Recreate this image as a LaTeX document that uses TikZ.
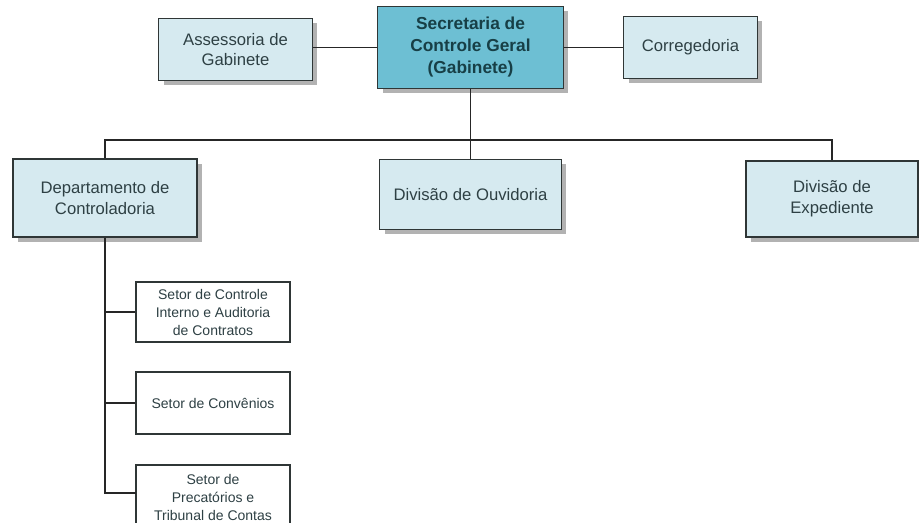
\documentclass[tikz,border=0pt]{standalone}
\usepackage{fontspec}
\setmainfont{Liberation Sans}
\usetikzlibrary{shadows}

\definecolor{boxfill}{HTML}{D6EAF0}
\definecolor{headfill}{HTML}{6DBFD3}
\definecolor{boxtext}{HTML}{2E4044}
\definecolor{headtext}{HTML}{173F46}
\definecolor{edgecol}{HTML}{2F3636}

\begin{document}
\begin{tikzpicture}[x=0.75pt,y=0.75pt,yscale=-1,xscale=1,
	unit/.style={draw=edgecol,line width=0.9pt,fill=boxfill,text=boxtext,align=center,
		inner sep=2pt,font=\fontsize{12.5}{15.5}\selectfont,
		drop shadow={shadow xshift=3.5pt,shadow yshift=-3.5pt,fill=black!30,opacity=1}},
	head/.style={unit,fill=headfill,text=headtext,font=\bfseries\fontsize{13}{16.5}\selectfont},
	sector/.style={draw=edgecol,line width=0.9pt,fill=white,text=boxtext,align=center,
		inner sep=2pt,font=\fontsize{10.5}{13.5}\selectfont},
	link/.style={draw=black!85,line width=1pt}]
	\clip (0,0) rectangle (919,523);
	\fill[white] (0,0) rectangle (919,523);
	% top row
	\node[head,minimum width=139pt,minimum height=61pt] (gab) at (470.5,47.5) {Secretaria de\\Controle Geral\\(Gabinete)};
	\node[unit,minimum width=115pt,minimum height=46pt] (asse) at (235.5,49.5) {Assessoria de\\Gabinete};
	\node[unit,minimum width=100pt,minimum height=46pt] (corr) at (690.5,47.5) {Corregedoria};
	% second row
	\node[unit,minimum width=138pt,minimum height=58.5pt] (dep) at (105,198) {Departamento de\\Controladoria};
	\node[unit,minimum width=136pt,minimum height=53pt] (ouv) at (470.5,194.5) {Divisão de Ouvidoria};
	\node[unit,minimum width=129pt,minimum height=57pt] (exp) at (832,199) {Divisão de\\Expediente};
	% sectors under the department
	\node[sector,minimum width=115.5pt,minimum height=45pt] (setA) at (213,312) {Setor de Controle\\Interno e Auditoria\\de Contratos};
	\node[sector,minimum width=115.5pt,minimum height=46.5pt] (setB) at (213,403) {Setor de Convênios};
	\node[sector,minimum width=115.5pt,minimum height=48pt] (setC) at (213,497) {Setor de\\Precatórios e\\Tribunal de Contas};
	\coordinate (bus) at (470.5,140);
	\coordinate (setCin) at (136,493);
	% connectors
	\draw[link] (gab.west) -- (gab.west -| asse.east);
	\draw[link] (gab.east) -- (corr.west);
	\draw[link] (gab.south) -- (gab.south |- bus);
	\draw[link] (dep.north) -- (dep.north |- bus) -- (exp.north |- bus) -- (exp.north);
	\draw[link] (ouv.north) -- (ouv.north |- bus);
	\draw[link] (dep.south) |- (setCin);
	\draw[link] (setA.west) -- (setA.west -| dep.south);
	\draw[link] (setB.west) -- (setB.west -| dep.south);
\end{tikzpicture}
\end{document}
